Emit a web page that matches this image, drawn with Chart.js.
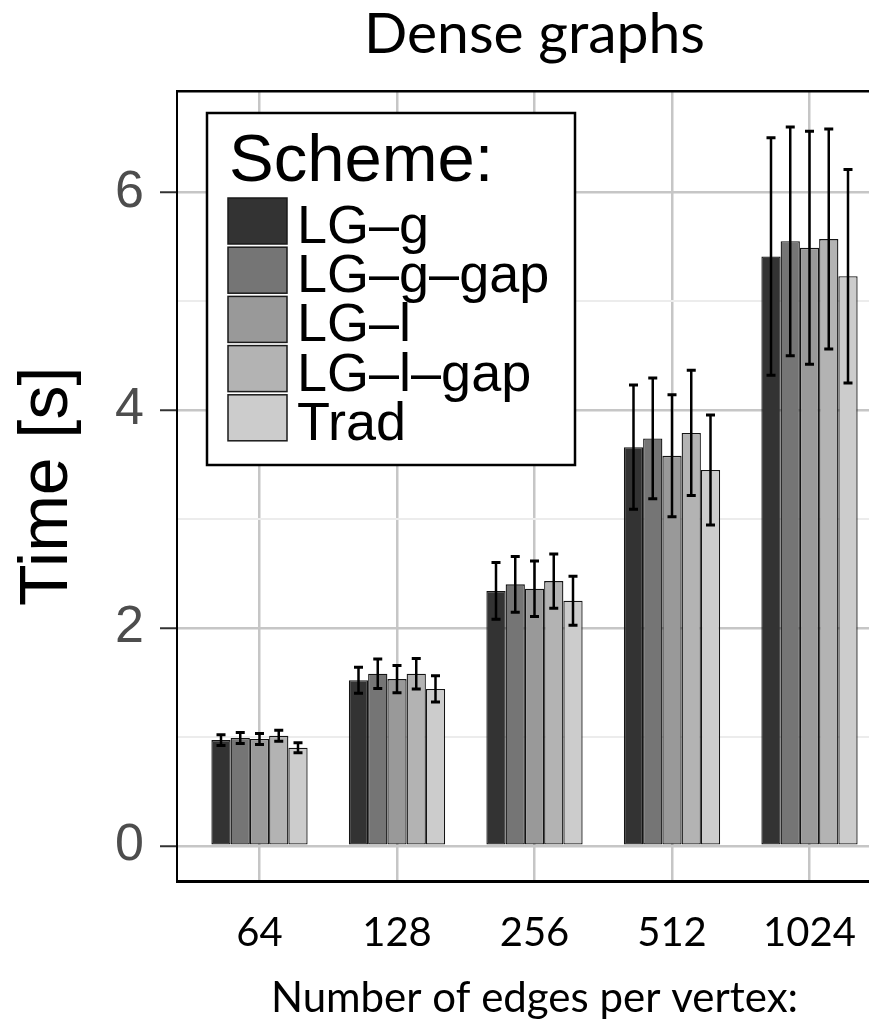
<!DOCTYPE html>
<html>
<head>
<meta charset="utf-8">
<title>Dense graphs</title>
<script src="https://cdn.jsdelivr.net/npm/chart.js@4.4.1/dist/chart.umd.min.js"></script>
<style>
  html, body { margin: 0; padding: 0; background: #ffffff; overflow: hidden; }
  #wrap { width: 869px; height: 1027px; overflow: hidden; }
  canvas { display: block; }
</style>
</head>
<body>
<div id="wrap"><canvas id="chart" width="892" height="1027"></canvas></div>
<script>
// Edges per vertex (x categories)
const categories = ['64', '128', '256', '512', '1024'];

// Scheme names, in legend order
const schemes = ['LG–g', 'LG–g–gap', 'LG–l', 'LG–l–gap', 'Trad'];

// Mean run time [s] per scheme, one value per category
const meanLGg    = [0.97, 1.52, 2.34, 3.66, 5.41];
const meanLGgGap = [0.99, 1.58, 2.40, 3.74, 5.55];
const meanLGl    = [0.98, 1.53, 2.36, 3.58, 5.49];
const meanLGlGap = [1.01, 1.58, 2.43, 3.79, 5.57];
const meanTrad   = [0.90, 1.44, 2.25, 3.45, 5.23];

// Standard deviation [s] per scheme (error bar half-length)
const sdLGg    = [0.050, 0.120, 0.260, 0.570, 1.090];
const sdLGgGap = [0.050, 0.135, 0.255, 0.555, 1.050];
const sdLGl    = [0.050, 0.125, 0.255, 0.560, 1.070];
const sdLGlGap = [0.050, 0.140, 0.250, 0.575, 1.010];
const sdTrad   = [0.045, 0.120, 0.225, 0.505, 0.980];

// Y axis ticks: labelled majors and unlabelled minors
const yMajorTicks = [0, 2, 4, 6];
const yMinorTicks = [1, 3, 5];

const means = [meanLGg, meanLGgGap, meanLGl, meanLGlGap, meanTrad];
const sds   = [sdLGg, sdLGgGap, sdLGl, sdLGlGap, sdTrad];
const fills = ['#333333', '#757575', '#999999', '#b3b3b3', '#cccccc'];

const SANS = "'Liberation Sans', Arial, sans-serif";
const HUMANIST = "Lato, 'Open Sans', sans-serif";

// Mean ± sd whiskers on top of each bar
const errorBars = {
  id: 'errorBars',
  afterDatasetsDraw(chart) {
    const { ctx } = chart;
    const yScale = chart.scales.y;
    ctx.save();
    ctx.strokeStyle = '#000000';
    ctx.lineCap = 'butt';
    chart.data.datasets.forEach((ds, i) => {
      const meta = chart.getDatasetMeta(i);
      meta.data.forEach((bar, j) => {
        const m = ds.data[j].y;
        const e = ds.sd[j];
        const yHi = yScale.getPixelForValue(m + e);
        const yLo = yScale.getPixelForValue(m - e);
        const x = bar.x;
        ctx.lineWidth = 2.5;
        ctx.beginPath();
        ctx.moveTo(x, yHi);
        ctx.lineTo(x, yLo);
        ctx.stroke();
        ctx.lineWidth = 3;
        ctx.beginPath();
        ctx.moveTo(x - 4.5, yHi);
        ctx.lineTo(x + 4.5, yHi);
        ctx.moveTo(x - 4.5, yLo);
        ctx.lineTo(x + 4.5, yLo);
        ctx.stroke();
      });
    });
    ctx.restore();
  }
};

// Boxed "Scheme:" legend in the upper-left of the panel
const schemeLegend = {
  id: 'schemeLegend',
  afterDraw(chart) {
    const { ctx, chartArea } = chart;
    const bx = chartArea.left + 30;
    const by = chartArea.top + 22;
    const bw = 368;
    const bh = 352;
    ctx.save();
    ctx.fillStyle = '#ffffff';
    ctx.fillRect(bx, by, bw, bh);
    ctx.lineWidth = 2.5;
    ctx.strokeStyle = '#000000';
    ctx.strokeRect(bx, by, bw, bh);

    ctx.fillStyle = '#000000';
    ctx.textAlign = 'left';
    ctx.textBaseline = 'alphabetic';
    ctx.font = `67px ${SANS}`;
    ctx.fillText('Scheme:', bx + 22, by + 68);

    ctx.font = `54px ${SANS}`;
    chart.data.datasets.forEach((ds, i) => {
      const sy = by + 85 + i * 49.2;
      ctx.fillStyle = ds.backgroundColor;
      ctx.fillRect(bx + 21, sy, 59, 46);
      ctx.lineWidth = 1.5;
      ctx.strokeStyle = '#1a1a1a';
      ctx.strokeRect(bx + 21, sy, 59, 46);
      ctx.fillStyle = '#000000';
      ctx.fillText(ds.label, bx + 90, sy + 45);
    });
    ctx.restore();
  }
};

const datasets = schemes.map((name, i) => ({
  label: name,
  data: means[i].map((v, j) => ({ x: j + 1, y: v })),
  sd: sds[i],
  backgroundColor: fills[i],
  borderColor: '#141414',
  borderWidth: 1.3,
  borderSkipped: false,
  categoryPercentage: 0.7,
  barPercentage: 1.0
}));

new Chart(document.getElementById('chart'), {
  type: 'bar',
  data: { datasets },
  options: {
    responsive: false,
    animation: false,
    devicePixelRatio: 1,
    layout: { padding: 0 },
    plugins: {
      legend: { display: false },
      tooltip: { enabled: false },
      title: { display: false }
    },
    scales: {
      x: {
        type: 'linear',
        position: 'bottom',
        min: 0.4,
        max: 5.6,
        offset: false,
        afterBuildTicks: s => { s.ticks = categories.map((c, i) => ({ value: i + 1 })); },
        afterFit: s => { s.height = 145.3; },
        ticks: {
          callback: v => categories[v - 1] ?? '',
          font: { family: HUMANIST, size: 40 },
          color: '#000000',
          padding: 27,
          maxRotation: 0,
          autoSkip: false
        },
        grid: { offset: false, color: '#c6c6c6', lineWidth: 2.5, drawTicks: false },
        border: { display: true, color: '#000000', width: 3 },
        title: {
          display: true,
          text: 'Number of edges per vertex:',
          font: { family: HUMANIST, size: 42 },
          color: '#000000',
          padding: { top: 0, bottom: 3 }
        }
      },
      xTop: {
        type: 'linear',
        position: 'top',
        min: 0.4,
        max: 5.6,
        offset: false,
        afterFit: s => { s.height = 91; },
        ticks: { display: false },
        grid: { display: false, drawTicks: false },
        border: { display: true, color: '#000000', width: 2.5 },
        title: {
          display: true,
          text: 'Dense graphs',
          font: { family: HUMANIST, size: 57 },
          color: '#000000',
          padding: { top: 0, bottom: 0 }
        }
      },
      y: {
        type: 'linear',
        min: -0.33,
        max: 6.93,
        afterBuildTicks: s => {
          s.ticks = [...yMajorTicks, ...yMinorTicks].sort((a, b) => a - b).map(v => ({ value: v }));
        },
        afterFit: s => { s.width = 177; },
        ticks: {
          callback: v => (yMajorTicks.includes(v) ? String(v) : ''),
          font: { family: SANS, size: 52 },
          color: '#4d4d4d',
          padding: 16
        },
        grid: {
          color: c => (c.tick && yMajorTicks.includes(c.tick.value) ? '#c6c6c6' : '#ececec'),
          lineWidth: c => (c.tick && yMajorTicks.includes(c.tick.value) ? 2.5 : 2),
          tickColor: c => (c.tick && yMajorTicks.includes(c.tick.value) ? '#333333' : 'rgba(0,0,0,0)'),
          tickLength: 17,
          tickWidth: 2
        },
        border: { display: true, color: '#000000', width: 2 },
        title: {
          display: true,
          text: 'Time [s]',
          font: { family: SANS, size: 68 },
          color: '#000000',
          padding: { top: 7, bottom: 0 }
        }
      }
    }
  },
  plugins: [errorBars, schemeLegend]
});
</script>
</body>
</html>
